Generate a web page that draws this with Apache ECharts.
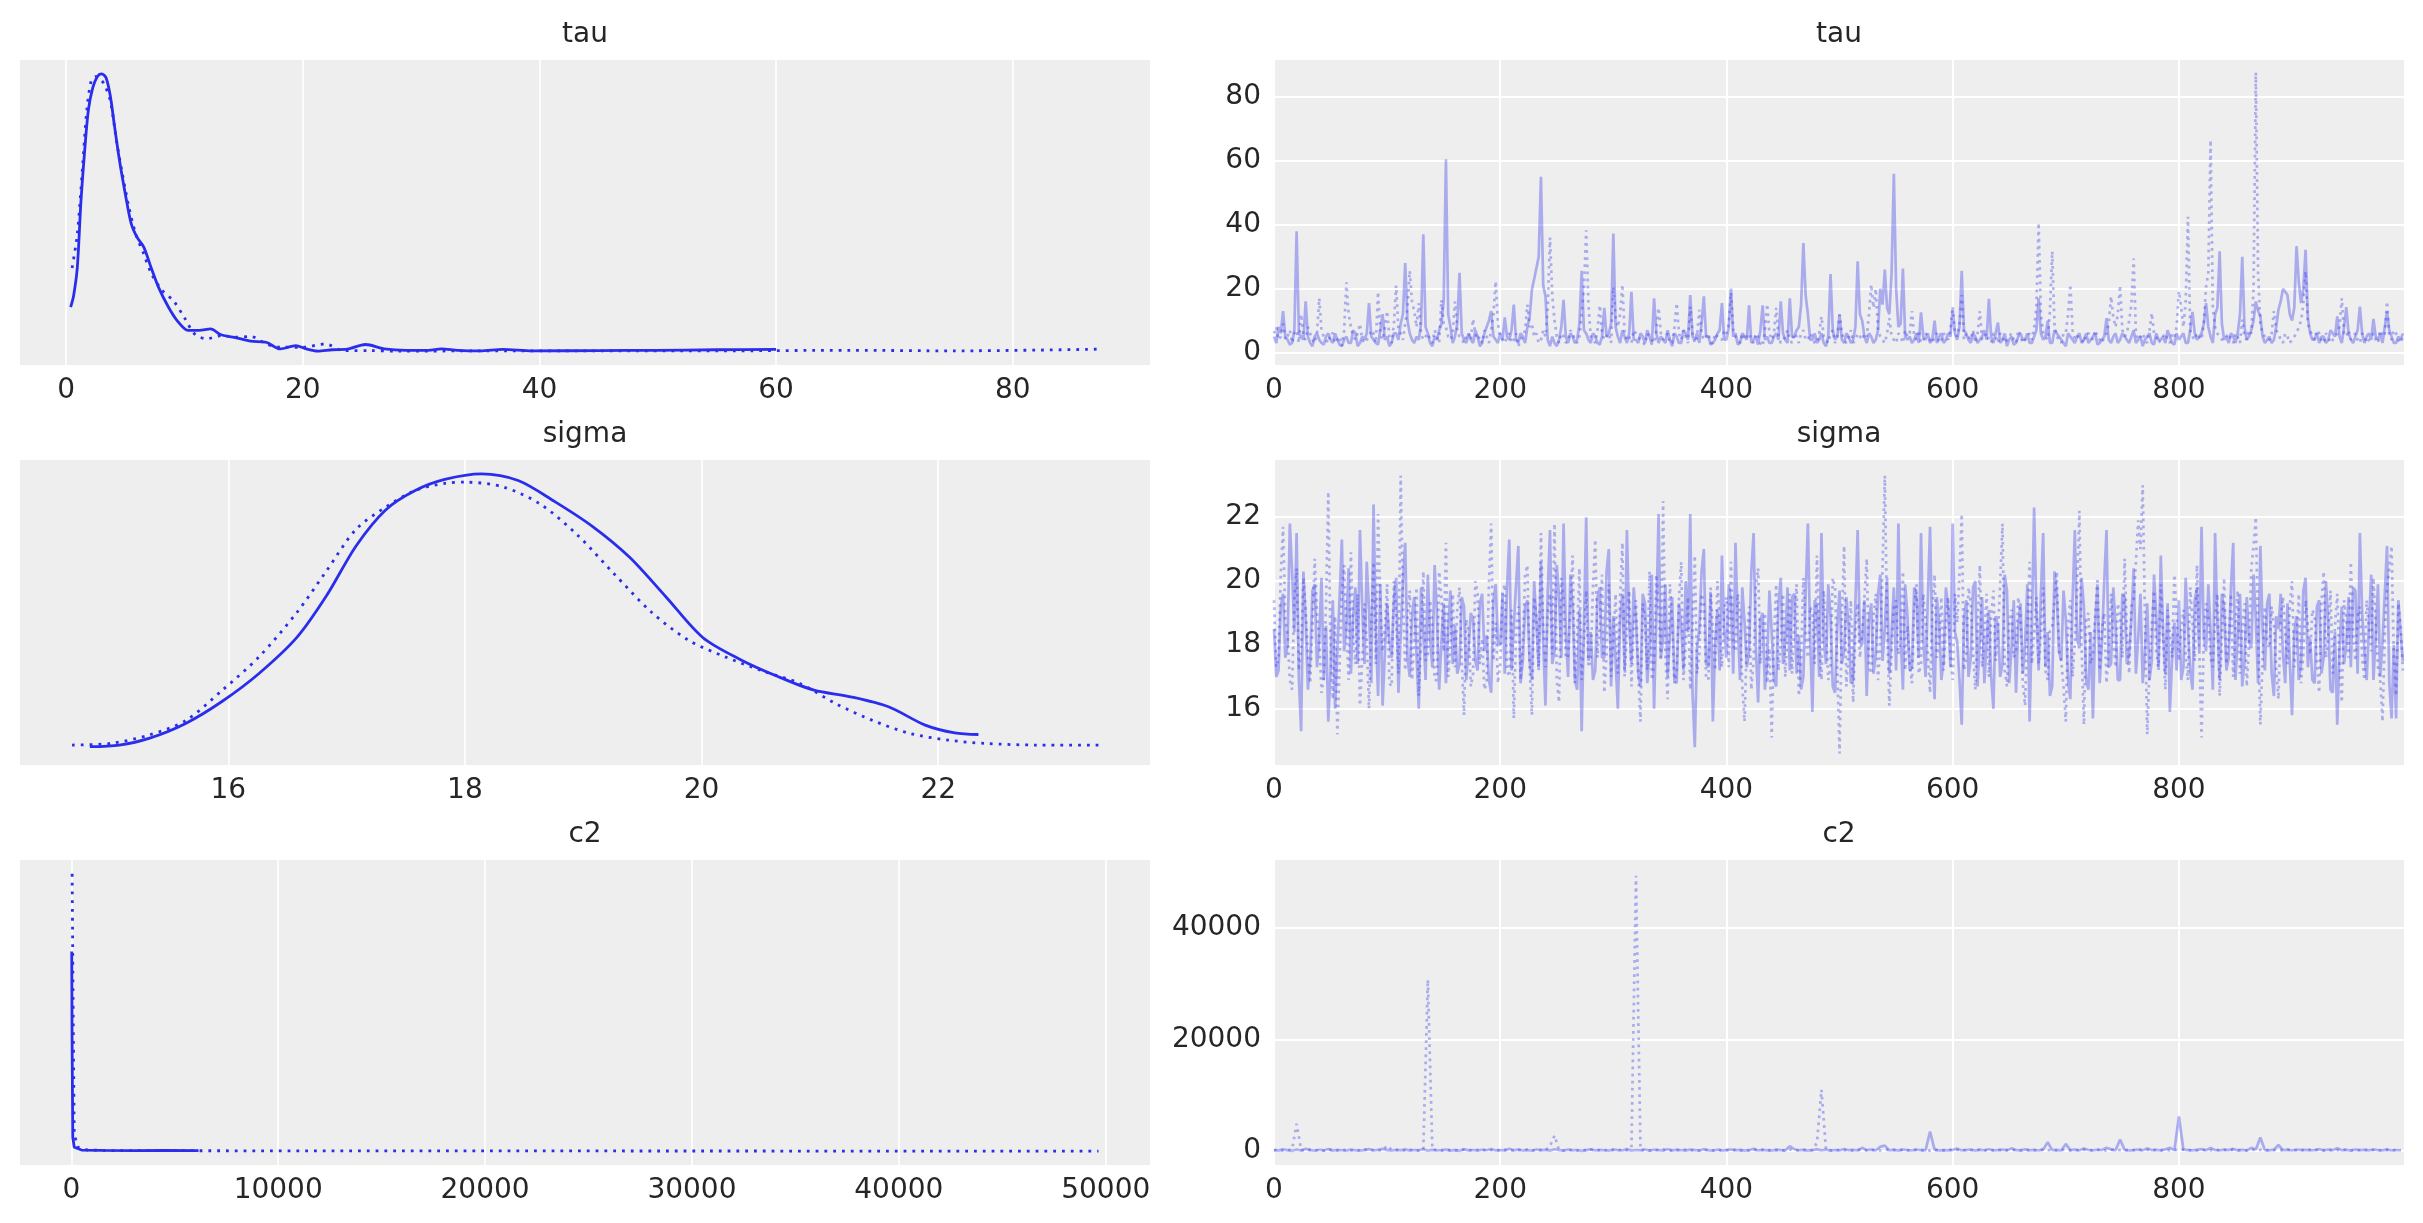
<!DOCTYPE html>
<html>
<head>
<meta charset="utf-8">
<title>trace plot</title>
<script src="https://cdn.jsdelivr.net/npm/echarts@6/dist/echarts.min.js"></script>
<style>
  html, body { margin: 0; padding: 0; background: #ffffff; }
  #chart { width: 2423px; height: 1223px; }
</style>
</head>
<body>
<div id="chart"></div>
<script>
// main arrays hold draws 0, 4, 8, ...; "Mid" arrays hold draws 2, 6, 10, ...
const STEP = 4;

// tick labels
const tauTicks = [0, 20, 40, 60, 80];
const sigmaTicks = [16, 18, 20, 22];
const c2KdeTicks = [0, 10000, 20000, 30000, 40000, 50000];
const c2TraceTicks = [0, 20000, 40000];
const drawTicks = [0, 200, 400, 600, 800];

// kde curves, [value, relative density]
const tauKde0 = [[0.38,0.159],[0.63,0.20],[0.94,0.30],[1.25,0.54],[1.56,0.72],[1.88,0.87],[2.25,0.95],[2.63,0.99],[3.0,1.0],[3.38,0.985],[3.75,0.916],[4.06,0.82],[4.5,0.69],[5.0,0.567],[5.5,0.46],[6.0,0.41],[6.56,0.375],[7.19,0.30],[7.81,0.23],[8.63,0.16],[9.38,0.11],[10.3,0.075],[11.25,0.075],[12.2,0.08],[13.1,0.059],[14.4,0.048],[15.6,0.036],[16.9,0.032],[18.1,0.008],[19.4,0.02],[20.3,0.008],[21.25,0.0],[22.5,0.005],[23.75,0.007],[25.3,0.024],[26.9,0.008],[28.75,0.003],[30.6,0.003],[31.7,0.008],[33.1,0.003],[35,0.001],[36.9,0.006],[39.4,0.001],[45,0.002],[49.7,0.003],[55,0.005],[60,0.006]];
const tauKde1 = [[0.5,0.30],[0.94,0.42],[1.38,0.66],[1.75,0.87],[2.13,0.976],[2.5,0.99],[2.9,0.98],[3.25,0.96],[3.75,0.90],[4.25,0.76],[4.75,0.64],[5.3,0.52],[5.9,0.42],[6.56,0.35],[7.2,0.28],[8.1,0.22],[9.1,0.18],[10.0,0.12],[10.9,0.06],[11.9,0.045],[13.1,0.056],[14.4,0.05],[15.6,0.053],[16.9,0.026],[18.1,0.014],[20.0,0.014],[21.9,0.026],[23.4,0.002],[25.6,0.002],[28,0.0],[35,0.001],[45,0.001],[55,0.001],[66.3,0.003],[75,0.001],[87.2,0.007]];
const sigmaKde0 = [[14.83,0.016],[15.08,0.022],[15.33,0.046],[15.64,0.10],[15.95,0.18],[16.26,0.28],[16.58,0.41],[16.83,0.56],[17.08,0.74],[17.33,0.87],[17.58,0.94],[17.83,0.98],[18.14,1.0],[18.45,0.976],[18.76,0.90],[19.08,0.81],[19.39,0.70],[19.7,0.556],[20.01,0.41],[20.33,0.33],[20.64,0.27],[20.95,0.22],[21.26,0.196],[21.58,0.16],[21.89,0.094],[22.14,0.066],[22.34,0.06]];
const sigmaKde1 = [[14.68,0.022],[15.01,0.028],[15.33,0.058],[15.64,0.11],[15.95,0.22],[16.26,0.34],[16.58,0.50],[16.83,0.65],[17.08,0.80],[17.33,0.88],[17.58,0.94],[17.83,0.966],[18.01,0.97],[18.33,0.952],[18.64,0.89],[18.95,0.78],[19.26,0.64],[19.58,0.50],[19.89,0.40],[20.2,0.34],[20.51,0.29],[20.83,0.244],[21.14,0.17],[21.45,0.11],[21.76,0.064],[22.08,0.04],[22.39,0.028],[22.83,0.022],[23.36,0.022]];
const c2Kde0 = [[20,0.72],[36,0.42],[71,0.05],[143,0.014],[500,0.004],[1500,0.003],[3000,0.002],[4500,0.003],[6150,0.002]];
const c2Kde1 = [[40,1.0],[90,0.5],[140,0.06],[320,0.014],[800,0.004],[2000,0.002],[10000,0.001],[30000,0.0005],[49650,0.0]];

// traces
const tauTrace0 = [
  5, 8, 13, 4, 3, 38, 5, 16, 3, 5,
  4, 2.5, 6, 3, 4, 2, 5, 3, 6, 3,
  4, 15.5, 4, 2.5, 12, 5, 3, 6, 9, 28,
  6, 3, 4, 37, 6, 2, 4, 9, 60.5, 8,
  5, 25, 4, 6, 3, 5, 3, 8, 13, 4,
  6, 11, 4, 15, 3, 5, 8, 19.7, 26.5, 55,
  17.6, 2, 3, 4, 16.5, 3, 5, 4, 25.6, 6,
  3, 5, 2.5, 14, 6, 37.3, 5, 7, 3, 19,
  4, 6, 3, 5, 17, 3, 4, 7, 2, 5,
  3, 6, 18, 4, 3, 17.6, 5, 3, 6, 15.5,
  4, 20, 6, 3, 5, 14.8, 4, 2.5, 14.8, 5,
  3, 6, 16, 4, 17, 5, 8, 34.3, 12, 4,
  3, 6, 2, 24.6, 4, 12, 3, 5, 4, 28.6,
  10, 3, 5, 4, 20, 26, 12, 56, 8, 26.3,
  4, 3, 6, 12.6, 4, 3, 10, 5, 3, 6,
  13.4, 4, 25.6, 6, 3, 5, 4, 7, 16.8, 3,
  9.4, 4, 2, 5, 3, 6, 4, 3, 5, 17,
  4, 10, 3, 6, 4, 2, 5, 3, 6, 4,
  3, 5, 2.5, 4, 10.8, 3, 6, 4, 5, 3,
  7, 4, 2, 5, 3, 6, 4, 3, 5, 2.5,
  4, 6, 3, 12.7, 4, 6, 15.5, 5, 12, 31.7,
  4, 3, 5, 6, 30, 4, 7, 16, 11.5, 3,
  5, 4, 13.4, 20, 18, 10, 33.3, 15.5, 32.2, 6,
  4, 3, 5, 4, 6, 11.3, 3, 14.2, 4, 5,
  14.4, 3, 6, 10.5, 4, 3, 12.9, 5, 3, 4
];
const tauTrace0Mid = [
  3, 6, 5, 2.5, 7, 6, 4, 5, 2, 6,
  3, 5, 4, 6, 2.5, 4, 3, 7, 2, 5,
  6, 5, 3, 7, 4, 2, 6, 4, 12, 10,
  4, 5, 9, 8, 3, 5, 7, 16, 12, 3,
  9, 6, 3, 4, 7, 2, 6, 10, 5, 3,
  4, 5, 7, 4, 6, 3, 11, 23, 30, 21,
  4, 5, 2, 8, 5, 6, 3, 9, 7, 4,
  6, 3, 5, 5, 9, 8, 3, 5, 6, 4,
  3, 5, 7, 2.5, 6, 5, 3, 4, 6, 3,
  7, 4, 5, 6, 9, 5, 2.5, 4, 7, 4,
  8, 5, 2.5, 6, 4, 3, 5, 7, 4, 3,
  5, 4, 6, 3, 5, 7, 15, 18, 4, 6,
  4, 3, 5, 7, 5, 4, 6, 3, 8, 12,
  5, 6, 3, 7, 15, 14, 25, 20, 9, 5,
  5, 4, 3, 5, 6, 4, 3, 6, 4, 5,
  6, 8, 7, 4, 6, 3, 5, 4, 5, 6,
  3, 6, 4, 2.5, 5, 4, 6, 3, 7, 6,
  5, 3, 7, 5, 3, 6, 4, 5, 3, 6,
  4, 6, 3, 5, 4, 5, 3, 6, 4, 5,
  3, 5, 4, 6, 2.5, 4, 5, 7, 3, 6,
  5, 3, 7, 6, 5, 9, 8, 3, 14, 9,
  5, 6, 3, 12, 8, 5, 10, 13, 5, 4,
  3, 8, 16, 19, 12, 14, 22, 20, 11, 4,
  6, 5, 3, 7, 5, 5, 8, 6, 3, 7,
  6, 5, 4, 5, 6, 8, 7, 3, 5, 6
];
const tauTrace1 = [
  6, 4, 9, 5, 3, 7, 12, 4, 6, 3,
  17, 5, 3, 6, 4, 2, 22, 8, 4, 9,
  3, 5, 6, 19, 4, 13, 3, 21, 6, 9,
  25.6, 13, 15.5, 4, 6, 3, 5, 16.5, 8, 4,
  16, 5, 3, 6, 10.5, 4, 3, 5, 7, 22.3,
  5, 3, 6, 4, 2, 5, 15, 9, 6, 4,
  5, 36, 10, 3, 5, 4, 6, 3, 12, 38.3,
  5, 3, 14.8, 4, 6, 20.5, 8, 21.3, 4, 3,
  6, 4, 2.5, 5, 3, 14, 4, 6, 3, 15.5,
  4, 5, 14.4, 3, 13.4, 4, 6, 3, 5, 4,
  6, 18.8, 5, 3, 4, 6, 3, 5, 2, 15.2,
  4, 14, 3, 5, 4, 6, 3, 7, 4, 5,
  3, 11.3, 4, 6, 3, 11.8, 4, 5, 3, 6,
  4, 5, 21.3, 20, 5, 3, 10.8, 4, 6, 3,
  5, 13, 4, 3, 6, 4, 5, 3, 6, 4,
  14.4, 5, 18, 6, 4, 3, 13, 5, 4, 6,
  3, 5, 4, 6, 3, 5, 4, 6, 8, 40.6,
  6, 4, 31.7, 5, 3, 6, 21.3, 4, 5, 3,
  6, 4, 5, 3, 6, 17.6, 8, 21, 5, 10,
  29.4, 4, 6, 3, 12.4, 5, 4, 6, 3, 5,
  19.2, 8, 42.5, 5, 6, 4, 20.5, 66.5, 8, 5,
  4, 6, 3, 5, 10.3, 4, 6, 87.7, 9, 5,
  4, 13, 6, 3, 5, 4, 6, 10, 25.4, 7,
  4, 6, 3, 5, 4, 6, 17, 5, 4, 6,
  3, 5, 4, 6, 3, 5, 16, 4, 6, 3
];
const tauTrace1Mid = [
  8, 5, 4, 7, 6, 3, 5, 8, 4, 6,
  7, 4, 6, 3, 5, 7, 12, 5, 6, 4,
  4, 7, 3, 6, 8, 5, 9, 7, 4, 14,
  16, 8, 6, 5, 4, 7, 3, 9, 5, 6,
  7, 4, 5, 4, 6, 5, 7, 3, 12, 9,
  4, 5, 3, 6, 4, 7, 8, 5, 3, 7,
  14, 18, 5, 6, 3, 7, 4, 5, 20, 15,
  4, 7, 6, 5, 3, 11, 12, 6, 5, 7,
  5, 3, 6, 4, 7, 6, 5, 3, 8, 6,
  7, 3, 6, 5, 6, 5, 3, 6, 4, 7,
  9, 7, 4, 6, 5, 4, 6, 3, 7, 6,
  6, 5, 4, 7, 3, 5, 6, 4, 6, 3,
  6, 5, 3, 7, 5, 6, 3, 7, 4, 5,
  6, 12, 14, 7, 4, 6, 5, 3, 5, 7,
  6, 5, 7, 4, 5, 3, 6, 4, 5, 7,
  6, 9, 4, 5, 7, 6, 4, 6, 3, 5,
  6, 3, 5, 4, 7, 3, 5, 4, 14, 12,
  5, 13, 9, 4, 6, 12, 7, 5, 4, 6,
  5, 7, 4, 5, 9, 11, 12, 7, 6, 15,
  6, 5, 4, 7, 6, 3, 5, 4, 6, 8,
  14, 16, 7, 4, 5, 9, 25, 14, 6, 4,
  5, 4, 6, 3, 5, 7, 20, 25, 6, 4,
  6, 7, 4, 6, 3, 5, 8, 15, 9, 5,
  7, 4, 6, 3, 5, 8, 6, 7, 5, 4,
  6, 3, 5, 4, 7, 6, 5, 7, 4, 5
];
const sigmaTrace0 = [
  18.5, 17.2, 19.6, 18.0, 20.3, 21.5, 15.3, 18.8, 17.5, 19.9,
  18.2, 16.9, 15.6, 19.4, 17.8, 21.3, 18.6, 17.1, 19.8, 21.6,
  17.4, 19.1, 22.4, 16.4, 16.1, 19.3, 17.6, 20.1, 18.3, 21.2,
  17.0, 19.5, 16.0, 18.4, 20.2, 17.3, 19.0, 18.1, 16.8, 19.7,
  18.6, 17.4, 19.2, 17.9, 18.8, 17.2, 19.6, 18.3, 16.5, 19.9,
  18.0, 17.1, 21.3, 18.6, 21.1, 17.5, 19.4, 16.9, 18.7, 20.6,
  16.1, 21.6, 17.8, 19.5, 21.8, 17.0, 19.2, 16.6, 15.3, 22.0,
  18.4, 17.2, 19.8, 17.6, 21.0, 18.9, 16.0, 19.6, 21.6, 17.4,
  18.8, 16.7, 19.3, 17.9, 16.0, 22.1, 18.2, 17.0, 19.5, 16.8,
  18.6, 20.0, 22.1, 14.8, 18.5, 21.0, 17.3, 15.6, 19.1, 20.8,
  17.6, 19.4, 21.2, 16.9, 18.7, 17.8, 21.5, 16.2, 19.0, 17.5,
  18.4, 16.7, 20.1, 18.1, 17.2, 19.6, 18.3, 17.0, 21.8, 15.9,
  19.2, 21.5, 17.4, 18.9, 16.5, 19.7, 17.8, 18.6, 16.9, 21.6,
  18.0, 16.4, 19.3, 17.7, 20.2, 18.5, 17.1, 19.8, 21.8, 16.6,
  18.9, 17.3, 19.5, 21.5, 17.0, 21.7, 16.3, 18.7, 17.5, 19.2,
  21.8, 18.1, 15.5, 19.4, 17.6, 20.0, 18.2, 16.8, 19.1, 16.0,
  18.6, 17.4, 19.7, 17.9, 16.5, 19.3, 18.0, 15.6, 22.3, 17.2,
  21.5, 18.4, 16.7, 19.6, 17.5, 18.8, 16.3, 21.6, 17.9, 19.2,
  16.6, 15.7, 19.9, 18.1, 21.6, 17.4, 18.6, 16.9, 19.5, 17.7,
  20.4, 18.2, 16.8, 19.3, 17.5, 18.9, 20.8, 17.1, 15.9, 18.7,
  19.4, 17.3, 18.5, 16.6, 19.8, 21.7, 17.8, 18.4, 21.5, 16.9,
  19.1, 17.6, 21.2, 18.3, 16.7, 19.5, 17.9, 18.8, 21.1, 17.2,
  19.6, 16.4, 18.5, 17.7, 19.3, 15.8, 18.9, 17.4, 20.1, 18.2,
  16.8, 19.4, 17.6, 18.7, 16.5, 15.5, 19.2, 18.0, 17.3, 19.7,
  21.5, 17.8, 18.6, 16.9, 19.9, 18.1, 21.1, 15.7, 15.7, 18.4
];
const sigmaTrace0Mid = [
  17.0, 19.2, 17.6, 21.8, 18.4, 16.9, 20.3, 16.6, 19.7, 17.3,
  20.1, 18.6, 17.2, 16.0, 19.5, 17.8, 20.4, 18.9, 17.4, 19.2,
  20.6, 16.8, 18.5, 19.9, 17.7, 18.1, 19.4, 16.5, 20.0, 17.6,
  18.9, 17.7, 19.8, 16.9, 18.2, 20.5, 16.6, 19.3, 18.5, 17.4,
  17.1, 19.5, 16.9, 19.0, 17.5, 19.3, 17.8, 16.9, 19.4, 18.0,
  19.6, 19.8, 17.2, 19.9, 16.8, 19.2, 17.5, 20.0, 17.3, 18.1,
  19.7, 17.4, 20.5, 17.6, 18.4, 20.2, 16.9, 19.1, 18.6, 17.5,
  16.9, 19.5, 17.6, 20.3, 16.7, 17.5, 18.8, 17.2, 18.7, 19.8,
  17.1, 19.6, 16.8, 20.2, 18.9, 17.6, 19.9, 18.3, 16.9, 19.3,
  17.2, 18.4, 16.5, 17.9, 20.3, 17.4, 19.6, 18.0, 17.2, 18.5,
  19.9, 17.1, 18.6, 19.8, 17.3, 20.3, 17.9, 18.8, 16.6, 19.7,
  16.9, 19.3, 17.4, 19.8, 19.5, 17.1, 16.6, 19.6, 18.2, 19.4,
  17.0, 18.2, 19.9, 16.7, 18.6, 17.4, 19.5, 16.8, 19.3, 18.1,
  19.4, 18.8, 17.1, 19.6, 17.5, 20.1, 18.4, 17.2, 18.3, 19.9,
  17.2, 19.8, 17.6, 18.2, 19.4, 18.0, 19.5, 16.9, 19.8, 17.3,
  18.4, 16.9, 18.8, 17.0, 19.8, 16.7, 19.5, 18.1, 17.0, 18.9,
  17.0, 20.2, 16.8, 19.4, 18.6, 17.1, 19.9, 18.6, 19.1, 19.6,
  17.3, 16.4, 20.3, 17.8, 19.7, 16.9, 19.4, 18.2, 20.1, 16.9,
  18.4, 18.7, 16.8, 20.0, 17.3, 19.8, 16.9, 19.6, 17.4, 18.8,
  17.1, 19.6, 17.8, 16.9, 20.2, 17.3, 18.4, 19.3, 17.6, 17.2,
  16.9, 20.1, 17.2, 19.4, 17.8, 18.3, 19.9, 16.6, 18.7, 19.6,
  17.2, 19.8, 16.9, 19.6, 17.5, 18.1, 20.2, 16.8, 18.5, 19.3,
  17.1, 18.9, 19.6, 16.8, 17.5, 18.4, 16.9, 19.7, 17.3, 16.9,
  19.2, 17.1, 20.0, 16.6, 18.4, 17.9, 17.4, 19.5, 19.8, 17.1,
  19.0, 16.9, 20.2, 18.3, 17.0, 19.6, 16.8, 18.0, 19.4, 17.5
];
const sigmaTrace1 = [
  19.4, 17.6, 21.7, 18.3, 16.6, 20.4, 17.9, 19.1, 16.8, 20.7,
  18.2, 17.0, 22.8, 16.3, 15.2, 19.6, 18.5, 20.9, 17.4, 16.1,
  19.3, 16.0, 20.6, 22.1, 17.8, 19.9, 16.7, 18.9, 23.3, 17.2,
  19.7, 18.1, 16.4, 20.3, 17.7, 18.6, 16.9, 19.5, 21.2, 18.0,
  17.3, 19.8, 15.8, 18.4, 17.1, 19.6, 18.2, 16.8, 21.8, 18.7,
  17.4, 19.9, 17.0, 15.7, 19.2, 18.1, 20.5, 15.8, 18.9, 21.5,
  17.3, 19.6, 21.8, 16.2, 19.4, 17.6, 20.8, 18.3, 16.9, 19.7,
  17.5, 21.3, 18.6, 16.5, 19.9, 18.2, 17.1, 21.2, 18.5, 16.7,
  19.4, 15.6, 18.8, 20.3, 17.4, 19.1, 22.5, 16.3, 18.7, 17.2,
  20.6, 18.0, 16.6, 20.8, 17.7, 19.3, 16.9, 18.4, 20.0, 17.3,
  19.5, 20.6, 17.8, 18.9, 15.6, 19.2, 17.5, 20.4, 18.3, 16.8,
  15.1, 19.9, 18.1, 17.0, 19.6, 18.7, 16.4, 20.1, 17.6, 19.0,
  20.8, 16.9, 18.5, 17.3, 19.8, 14.6, 21.1, 17.9, 16.2, 19.3,
  18.4, 20.7, 17.1, 19.6, 18.0, 23.3, 16.1, 19.2, 17.7, 20.3,
  18.6, 16.8, 19.9, 17.4, 18.8, 16.5, 20.2, 18.1, 17.2, 19.5,
  16.9, 18.7, 22.1, 17.6, 19.3, 16.6, 20.5, 18.2, 17.0, 19.7,
  18.4, 21.8, 16.7, 19.1, 17.8, 18.9, 16.1, 20.6, 18.3, 17.4,
  19.8, 16.9, 18.6, 20.3, 17.5, 15.6, 19.4, 18.1, 22.2, 15.5,
  19.0, 17.7, 20.1, 18.5, 16.8, 19.6, 17.3, 18.9, 20.7, 17.1,
  19.4, 21.9, 23.0, 15.2, 18.6, 17.8, 19.9, 16.6, 18.4, 20.2,
  17.5, 19.1, 16.9, 18.7, 20.5, 15.1, 19.3, 17.6, 18.8, 16.4,
  20.1, 18.2, 17.0, 19.7, 18.5, 16.7, 20.4, 22.0, 15.5, 19.2,
  17.9, 18.6, 16.3, 19.5, 17.4, 20.0, 18.1, 16.8, 19.4, 17.7,
  18.9, 16.5, 20.3, 18.3, 17.1, 19.6, 16.2, 18.8, 20.6, 17.5,
  19.2, 16.9, 18.5, 20.1, 17.3, 15.6, 19.8, 21.1, 16.4, 18.6
];
const sigmaTrace1Mid = [
  17.3, 20.2, 18.8, 16.9, 19.5, 17.2, 20.1, 17.7, 18.6, 19.0,
  16.5, 19.3, 17.8, 18.9, 17.4, 20.5, 16.9, 18.3, 19.6, 17.5,
  18.1, 18.7, 17.4, 19.2, 18.5, 16.8, 20.0, 17.1, 19.4, 18.8,
  16.9, 19.8, 18.2, 17.5, 19.4, 16.9, 20.3, 17.8, 17.0, 19.6,
  19.1, 17.5, 18.8, 16.7, 20.0, 17.4, 16.6, 19.9, 17.5, 16.8,
  19.6, 17.2, 19.1, 18.4, 16.9, 20.2, 17.3, 19.5, 17.2, 18.6,
  19.0, 17.7, 16.9, 20.1, 17.6, 19.2, 16.8, 20.4, 18.1, 17.3,
  19.8, 17.6, 20.2, 17.7, 17.0, 19.6, 19.5, 17.0, 19.7, 18.6,
  17.1, 19.3, 17.2, 16.9, 20.2, 17.5, 17.7, 19.9, 16.8, 19.4,
  16.9, 19.5, 18.5, 17.1, 19.6, 17.0, 19.8, 17.2, 18.6, 19.1,
  17.3, 18.0, 19.6, 16.7, 18.2, 16.6, 19.8, 17.4, 19.0, 17.9,
  18.2, 17.2, 19.6, 18.4, 17.1, 19.9, 17.6, 18.3, 19.2, 17.4,
  18.2, 19.7, 16.9, 20.1, 17.2, 18.7, 16.7, 19.4, 18.4, 17.6,
  19.5, 17.3, 18.8, 16.9, 20.4, 18.6, 17.8, 19.4, 18.1, 17.2,
  17.4, 19.2, 17.1, 19.6, 17.7, 19.0, 17.6, 19.5, 18.7, 17.6,
  19.6, 20.2, 17.2, 19.8, 17.8, 18.4, 17.3, 19.6, 18.9, 17.5,
  19.9, 17.2, 18.7, 17.6, 19.5, 16.8, 18.6, 17.4, 19.5, 18.2,
  17.2, 18.5, 19.4, 17.8, 16.7, 18.6, 17.0, 19.7, 17.9, 18.8,
  17.4, 18.9, 17.2, 19.0, 17.9, 18.2, 19.3, 17.6, 18.4, 19.2,
  20.6, 21.0, 18.8, 17.3, 19.7, 17.2, 18.3, 19.1, 17.6, 18.9,
  18.4, 17.7, 19.8, 17.5, 17.9, 18.2, 18.9, 17.3, 19.6, 18.2,
  17.4, 19.6, 18.5, 17.1, 19.3, 18.0, 21.1, 18.3, 17.6, 18.1,
  19.2, 17.3, 18.8, 18.4, 19.2, 17.3, 19.6, 17.7, 18.6, 19.1,
  17.5, 19.3, 17.6, 19.7, 18.6, 17.4, 19.4, 17.6, 18.3, 18.9,
  17.6, 19.4, 17.8, 18.6, 16.9, 18.3, 20.4, 17.6, 19.3, 17.2
];
const c2Trace0 = [
  210, 90, 340, 150, 60, 280, 120, 410, 180, 75,
  250, 130, 380, 95, 220, 160, 60, 300, 140, 85,
  190, 360, 110, 240, 400, 170, 70, 260, 130, 310,
  90, 200, 150, 350, 80, 230, 120, 190, 280, 100,
  170, 60, 320, 140, 210, 90, 250, 160, 380, 120,
  200, 80, 420, 150, 260, 110, 180, 70, 300, 140,
  230, 100, 350, 170, 90, 270, 130, 210, 60, 190,
  320, 110, 240, 150, 80, 280, 170, 120, 360, 90,
  210, 140, 300, 100, 250, 180, 70, 330, 130, 220,
  160, 90, 280, 200, 120, 350, 150, 80, 260, 110,
  190, 300, 130, 240, 90, 170, 410, 120, 220, 150,
  80, 280, 170, 110, 900, 340, 160, 230, 100, 190,
  310, 140, 250, 90, 200, 130, 380, 170, 240, 110,
  600, 180, 260, 120, 800, 1000, 150, 230, 90, 300,
  170, 120, 250, 200, 140, 3500, 280, 110, 190, 150,
  240, 450, 130, 180, 300, 100, 220, 160, 350, 120,
  200, 260, 140, 500, 180, 90, 310, 150, 230, 120,
  280, 1600, 170, 220, 110, 1300, 190, 260, 140, 480,
  210, 130, 250, 180, 600, 320, 150, 2100, 230, 110,
  190, 280, 140, 500, 170, 230, 120, 310, 600, 160,
  6200, 260, 180, 130, 240, 350, 150, 550, 200, 120,
  270, 180, 400, 140, 230, 110, 600, 300, 2450, 190,
  150, 260, 1100, 180, 230, 120, 300, 170, 240, 140,
  200, 350, 130, 260, 180, 500, 150, 220, 110, 280,
  170, 240, 130, 300, 190, 150, 260, 120, 210, 160
];
const c2Trace1 = [
  150, 280, 90, 200, 350, 4900, 170, 110, 260, 140,
  230, 80, 300, 160, 120, 270, 190, 100, 240, 150,
  310, 130, 210, 170, 90, 1000, 250, 140, 200, 110,
  280, 160, 120, 230, 30700, 350, 180, 90, 260, 150,
  200, 110, 290, 170, 130, 240, 90, 310, 160, 220,
  120, 270, 180, 100, 230, 150, 300, 190, 80, 260,
  140, 900, 2800, 210, 120, 280, 170, 110, 240, 150,
  300, 130, 190, 260, 100, 220, 160, 280, 140, 600,
  49300, 210, 170, 120, 260, 150, 320, 190, 110, 230,
  160, 280, 130, 200, 100, 250, 180, 140, 300, 120,
  220, 170, 260, 110, 190, 140, 280, 160, 230, 100,
  270, 150, 210, 130, 300, 180, 120, 240, 160, 200,
  1500, 11000, 230, 170, 120, 260, 150, 210, 100, 280,
  190, 140, 240, 170, 110, 300, 160, 220, 130, 250,
  180, 120, 270, 150, 210, 100, 240, 170, 130, 290,
  160, 220, 110, 260, 180, 140, 300, 120, 200, 170,
  240, 130, 190, 280, 150, 210, 110, 250, 170, 140,
  300, 160, 220, 120, 260, 180, 140, 230, 100, 270,
  190, 150, 240, 170, 120, 280, 160, 210, 130, 250,
  180, 300, 140, 220, 110, 260, 170, 200, 150, 240,
  130, 280, 160, 210, 120, 250, 180, 140, 300, 170,
  220, 110, 260, 150, 200, 140, 280, 170, 230, 120,
  250, 160, 210, 130, 290, 180, 140, 240, 110, 270,
  170, 220, 150, 260, 120, 200, 180, 300, 140, 230,
  160, 250, 130, 210, 180, 140, 270, 120, 220, 170
];

// look
const lineColor = '#2a2eec';
const textColor = '#262626';
const panelBg = '#eeeeee';
const fontFamily = 'DejaVu Sans';
const fontSize = 28;

const panels = [
  { title: 'tau', kde: [tauKde0, tauKde1],
    trace: [[tauTrace0, tauTrace0Mid], [tauTrace1, tauTrace1Mid]],
    range: [-3.9, 91.6], kdeTicks: tauTicks, traceTicks: tauTicks },
  { title: 'sigma', kde: [sigmaKde0, sigmaKde1],
    trace: [[sigmaTrace0, sigmaTrace0Mid], [sigmaTrace1, sigmaTrace1Mid]],
    range: [14.24, 23.79], kdeTicks: sigmaTicks, traceTicks: sigmaTicks },
  { title: 'c2', kde: [c2Kde0, c2Kde1],
    trace: [[c2Trace0, null], [c2Trace1, null]],
    range: [-2480, 52140], kdeTicks: c2KdeTicks, traceTicks: c2TraceTicks }
];

const rowTop = [60, 460, 860];
const rowHeight = 305;
const colLeft = [20, 1274];
const colWidth = 1130;

// [draw, value] pairs, merging the main and mid arrays
function drawsOf(main, mid) {
  const out = [];
  main.forEach((v, i) => {
    out.push([i * STEP, v]);
    if (mid) out.push([i * STEP + STEP / 2, mid[i]]);
  });
  return out;
}

const chart = echarts.init(document.getElementById('chart'), null, { renderer: 'canvas' });

const grids = [];
const xAxes = [];
const yAxes = [];
const series = [];
const graphics = [];

function axis(gridIndex, min, max, ticks, opts) {
  return {
    type: 'value',
    gridIndex: gridIndex,
    min: min,
    max: max,
    axisLine: { show: false },
    axisTick: { show: false, customValues: ticks },
    axisLabel: {
      show: opts.labels,
      customValues: ticks,
      color: textColor,
      fontFamily: fontFamily,
      fontSize: fontSize,
      margin: opts.margin,
      formatter: v => String(v)
    },
    splitLine: { show: opts.grid, lineStyle: { color: '#ffffff', width: opts.gridWidth || 2 } }
  };
}

panels.forEach((p, r) => {
  const kdeIdx = r * 2;
  const traceIdx = r * 2 + 1;
  grids.push({ left: colLeft[0], top: rowTop[r], width: colWidth, height: rowHeight,
    show: true, backgroundColor: panelBg, borderWidth: 0 });
  grids.push({ left: colLeft[1], top: rowTop[r], width: colWidth, height: rowHeight,
    show: true, backgroundColor: panelBg, borderWidth: 0 });

  // left: kde
  xAxes.push(axis(kdeIdx, p.range[0], p.range[1], p.kdeTicks, { labels: true, grid: true, margin: 12, gridWidth: 1.6 }));
  yAxes.push(axis(kdeIdx, -0.05, 1.05, [], { labels: false, grid: false, margin: 0 }));
  // right: trace
  xAxes.push(axis(traceIdx, 0, 999, drawTicks, { labels: true, grid: true, margin: 12 }));
  yAxes.push(axis(traceIdx, p.range[0], p.range[1], p.traceTicks, { labels: true, grid: true, margin: 13 }));

  p.kde.forEach((curve, c) => {
    series.push({
      type: 'line',
      xAxisIndex: kdeIdx,
      yAxisIndex: kdeIdx,
      data: curve,
      showSymbol: false,
      smooth: r === 2 ? false : 0.3,
      lineStyle: { color: lineColor, width: 2.8, type: c === 0 ? 'solid' : [2.8, 6] },
      silent: true
    });
  });

  p.trace.forEach((pair, c) => {
    series.push({
      type: 'line',
      xAxisIndex: traceIdx,
      yAxisIndex: traceIdx,
      data: drawsOf(pair[0], pair[1]),
      showSymbol: false,
      lineStyle: { color: lineColor, width: 2.7, opacity: 0.35, type: c === 0 ? 'solid' : [2.7, 4.4] },
      silent: true
    });
  });

  const titleY = rowTop[r] - 25;
  [0, 1].forEach(col => {
    graphics.push({
      type: 'text',
      x: colLeft[col] + colWidth / 2,
      y: titleY,
      style: {
        text: p.title,
        fill: textColor,
        font: fontSize + 'px ' + fontFamily,
        align: 'center',
        verticalAlign: 'middle'
      }
    });
  });
});

chart.setOption({
  animation: false,
  backgroundColor: '#ffffff',
  grid: grids,
  xAxis: xAxes,
  yAxis: yAxes,
  series: series,
  graphic: graphics
});
</script>
</body>
</html>
